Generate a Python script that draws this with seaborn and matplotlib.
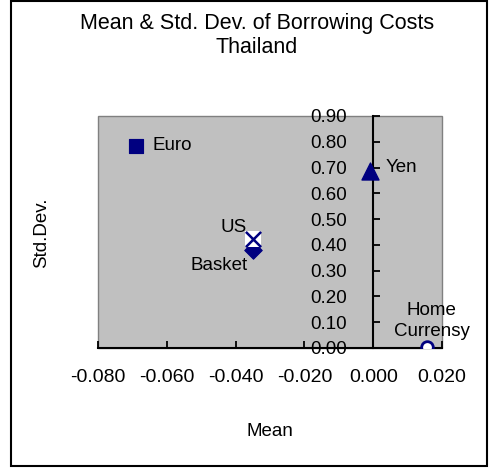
import matplotlib
matplotlib.use("Agg")
import matplotlib.pyplot as plt
import seaborn as sns
import pandas as pd
from matplotlib.patches import Rectangle
from matplotlib.ticker import FixedLocator, FuncFormatter

# Mean and standard deviation of borrowing costs by currency
currencies = ["Euro", "Yen", "US", "Basket", "Home\nCurrensy"]
means = [-0.069, -0.001, -0.035, -0.035, 0.0155]
std_devs = [0.785, 0.687, 0.423, 0.380, 0.005]

x_ticks = [-0.08, -0.06, -0.04, -0.02, 0.0, 0.02]
y_ticks = [0.0, 0.1, 0.2, 0.3, 0.4, 0.5, 0.6, 0.7, 0.8, 0.9]

df = pd.DataFrame({"currency": currencies, "mean": means, "std": std_devs})

sns.set_style("white")
plt.rcParams["font.family"] = ["Liberation Sans", "DejaVu Sans"]
plt.rcParams["text.color"] = "black"
plt.rcParams["xtick.direction"] = "in"
plt.rcParams["ytick.direction"] = "in"

NAVY = "#000080"

fig = plt.figure(figsize=(4.9, 4.7), dpi=100)
ax = fig.add_axes([98 / 490, 1 - 348 / 470, (442 - 98) / 490, (348 - 116) / 470])
ax.set_facecolor("#C0C0C0")
ax.patch.set_edgecolor("#808080")
ax.patch.set_linewidth(1.0)

# marker style per currency
styles = {
    "Euro": dict(marker="s", s=110, color=NAVY, edgecolor=NAVY),
    "Yen": dict(marker="^", s=150, color=NAVY, edgecolor=NAVY),
    "Basket": dict(marker="D", s=80, color=NAVY, edgecolor=NAVY),
    "Home\nCurrensy": dict(marker="o", s=70, color="white", edgecolor=NAVY, linewidth=2),
}
for cur, st in styles.items():
    sns.scatterplot(data=df[df["currency"] == cur], x="mean", y="std", ax=ax,
                    legend=False, zorder=4, **st)
us = df[df["currency"] == "US"]
sns.scatterplot(data=us, x="mean", y="std", ax=ax, marker="s", s=130,
                color="white", edgecolor="none", legend=False, zorder=5)
sns.scatterplot(data=us, x="mean", y="std", ax=ax, marker="x", s=120,
                color=NAVY, linewidth=1.8, legend=False, zorder=6)

# point labels
offsets = {
    "Euro": ((17, 0), "left"),
    "Yen": ((16, 3), "left"),
    "US": ((-6, 11), "right"),
    "Basket": ((-5, -15), "right"),
    "Home\nCurrensy": ((5, 26), "center"),
}
for cur, mx, sy in zip(currencies, means, std_devs):
    (dx, dy), ha = offsets[cur]
    ax.annotate(cur, (mx, sy), xytext=(dx, dy), textcoords="offset pixels",
                ha=ha, va="center", fontsize=13.5, color="black", zorder=7,
                linespacing=1.3)

ax.set_xlim(-0.08, 0.02)
ax.set_ylim(0.0, 0.9)

for side in ("top", "right"):
    ax.spines[side].set_visible(False)
ax.spines["left"].set_position(("data", 0))
ax.spines["left"].set_color("black")
ax.spines["left"].set_linewidth(1.5)
ax.spines["bottom"].set_color("black")
ax.spines["bottom"].set_linewidth(1.5)

ax.xaxis.set_major_locator(FixedLocator(x_ticks))
ax.yaxis.set_major_locator(FixedLocator(y_ticks))
ax.xaxis.set_major_formatter(FuncFormatter(lambda v, p: f"{v:.3f}".replace("-0.000", "0.000")))
ax.yaxis.set_major_formatter(FuncFormatter(lambda v, p: f"{v:.2f}"))
ax.tick_params(axis="x", direction="in", length=5, width=1.3, pad=15, labelsize=14,
               bottom=True, colors="black")
ax.tick_params(axis="y", direction="in", length=5, width=1.3, pad=19, labelsize=13.5,
               left=True, colors="black")
ax.set_xlabel("")
ax.set_ylabel("")

fig.text(257 / 490, 1 - 29 / 470, "Mean & Std. Dev. of Borrowing Costs", ha="center",
         va="baseline", fontsize=15.5, color="black")
fig.text(257 / 490, 1 - 53 / 470, "Thailand", ha="center", va="baseline", fontsize=15.5,
         color="black")
fig.text(270 / 490, 1 - 432 / 470, "Mean", ha="center", va="center", fontsize=13.5,
         color="black")
fig.text(42 / 490, 1 - 233 / 470, "Std.Dev.", ha="center", va="center", fontsize=13.5,
         rotation=90, color="black")

# outer chart frame
fig.patches.append(Rectangle((11 / 490, 1 - 466 / 470), (487 - 11) / 490, (466 - 1) / 470,
                             transform=fig.transFigure, fill=False, edgecolor="black",
                             linewidth=1.5))

fig.savefig("out.png", dpi=100)
